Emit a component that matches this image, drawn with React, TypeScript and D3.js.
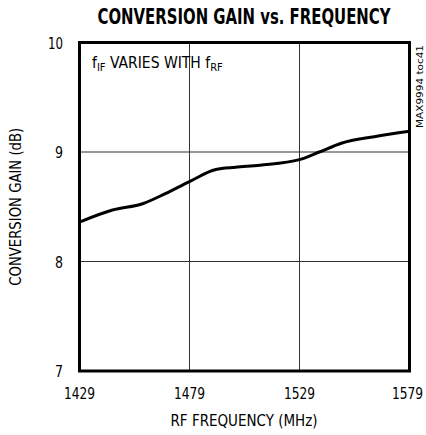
import React from "react";
import * as d3 from "d3";

const freqMHz = [1429, 1444, 1458, 1468, 1479, 1491, 1500, 1511, 1529, 1538, 1548, 1563, 1579];
const gainDb = [8.36, 8.47, 8.53, 8.62, 8.73, 8.84, 8.86, 8.88, 8.93, 9.0, 9.08, 9.14, 9.19];
const xTicks = [1429, 1479, 1529, 1579];
const yTicks = [7, 8, 9, 10];

const W = 426, H = 435;
const L = 79.5, R = 409.5, T = 42.5, B = 371;
const font = "'Liberation Sans Narrow', 'DejaVu Sans Condensed', Roboto, sans-serif";
const TS = 0.8; // horizontal squeeze for title
const KS = 0.85; // horizontal squeeze for tick labels

export default function App() {
  const x = d3.scaleLinear().domain([1429, 1579]).range([L, R]);
  const y = d3.scaleLinear().domain([7, 10]).range([B, T]);
  const line = d3.line<number>().x((_, i) => x(freqMHz[i])).y((d) => y(d)).curve(d3.curveMonotoneX);
  return (
    <svg width={W} height={H} style={{ position: "absolute", left: 0, top: 0, background: "#fff" }}>
      <rect x={0} y={0} width={W} height={H} fill="#fff" />
      <text transform={`translate(244,24) scale(${TS},1)`} textAnchor="middle" fontFamily="'DejaVu Sans Condensed', 'DejaVu Sans', sans-serif" fontWeight="bold" fontSize={20.5} textLength={293 / TS} lengthAdjust="spacingAndGlyphs" fill="#000">CONVERSION GAIN vs. FREQUENCY</text>
      {xTicks.slice(1, -1).map((t) => (
        <line key={"gx" + t} x1={x(t)} x2={x(t)} y1={T} y2={B} stroke="#333" strokeWidth={1} />
      ))}
      {yTicks.slice(1, -1).map((t) => (
        <line key={"gy" + t} x1={L} x2={R} y1={y(t)} y2={y(t)} stroke="#333" strokeWidth={1} />
      ))}
      <path d={line(gainDb) || ""} fill="none" stroke="#000" strokeWidth={3} strokeLinejoin="round" />
      <rect x={L} y={T} width={R - L} height={B - T} fill="none" stroke="#000" strokeWidth={3} />
      {yTicks.map((t) => (
        <text key={"yt" + t} transform={`translate(63,${y(t) + 6}) scale(${KS},1)`} textAnchor="end" fontFamily={font} fontSize={16} fill="#000" textLength={(t === 10 ? 15 : 8) / KS} lengthAdjust="spacingAndGlyphs">{t}</text>
      ))}
      {xTicks.map((t, i) => (
        <text key={"xt" + t} transform={`translate(${x(t) - (i === xTicks.length - 1 ? 2 : 0)},399) scale(${KS},1)`} textAnchor="middle" fontFamily={font} fontSize={16} fill="#000" textLength={31 / KS} lengthAdjust="spacingAndGlyphs">{t}</text>
      ))}
      <text x={244} y={426} textAnchor="middle" fontFamily={font} fontSize={16} fill="#000" textLength={147} lengthAdjust="spacingAndGlyphs">RF FREQUENCY (MHz)</text>
      <text transform={`translate(21,${(T + B) / 2}) rotate(-90)`} textAnchor="middle" fontFamily={font} fontSize={16} fill="#000" textLength={158} lengthAdjust="spacingAndGlyphs">CONVERSION GAIN (dB)</text>
      <text x={92} y={68} fontFamily={font} fontSize={15.5} fill="#000">
        f<tspan fontSize={11} dy={3}>IF</tspan><tspan dy={-3}> VARIES WITH f</tspan><tspan fontSize={11} dy={3}>RF</tspan>
      </text>
      <text transform={`translate(423,128) rotate(-90)`} fontFamily={font} fontSize={9.5} fill="#000" textLength={83} lengthAdjust="spacingAndGlyphs">MAX9994 toc41</text>
    </svg>
  );
}
